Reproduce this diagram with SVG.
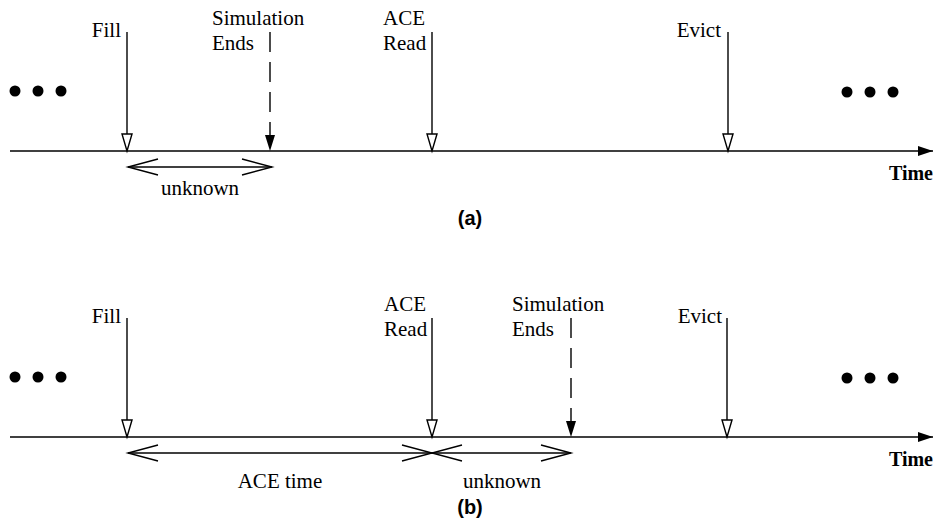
<svg xmlns="http://www.w3.org/2000/svg" width="940" height="522" viewBox="0 0 940 522">
  <style>
    .lbl { font-family: "Liberation Serif", "Times New Roman", serif; font-size: 21px; fill: #000; }
    .axis-lbl { font-family: "Liberation Serif", "Times New Roman", serif; font-size: 20px; font-weight: bold; fill: #000; }
    .cap { font-family: "Liberation Sans", Arial, sans-serif; font-size: 20px; font-weight: bold; fill: #000; }
    .ev { stroke: #000; stroke-width: 1.4; fill: none; marker-end: url(#openTri); }
    .ev-dash { stroke: #000; stroke-width: 1.4; fill: none; stroke-dasharray: 20 10; marker-end: url(#solidTri); }
    .span { stroke: #000; stroke-width: 1.4; fill: none; marker-start: url(#vHead); marker-end: url(#vHead); }
    .axis { stroke: #000; stroke-width: 1.6; fill: none; marker-end: url(#axisHead); }
  </style>
  <defs>
    <marker id="openTri" markerUnits="userSpaceOnUse" orient="auto" refX="0" refY="0" markerWidth="20" markerHeight="12" overflow="visible">
      <path d="M-17,-5 L0,0 L-17,5 Z" fill="#fff" stroke="#000" stroke-width="1.4"/>
    </marker>
    <marker id="solidTri" markerUnits="userSpaceOnUse" orient="auto" refX="0" refY="0" markerWidth="20" markerHeight="12" overflow="visible">
      <path d="M-16,-5 L0,0 L-16,5 Z" fill="#000"/>
    </marker>
    <marker id="axisHead" markerUnits="userSpaceOnUse" orient="auto" refX="0" refY="0" markerWidth="20" markerHeight="12" overflow="visible">
      <path d="M-15,-5 L0,0 L-15,5 Z" fill="#000"/>
    </marker>
    <marker id="vHead" markerUnits="userSpaceOnUse" orient="auto-start-reverse" refX="0" refY="0" markerWidth="34" markerHeight="20" overflow="visible">
      <path d="M-30,-8 L0,0 L-30,8" fill="none" stroke="#000" stroke-width="1.4"/>
    </marker>
    <g id="dots">
      <circle cx="0" cy="0" r="5.5"/>
      <circle cx="23" cy="0" r="5.5"/>
      <circle cx="46" cy="0" r="5.5"/>
    </g>
  </defs>

  <!-- Panel (a): simulation ends before the ACE read -->
  <g id="panel-a">
    <g id="a-connectors">
      <line class="axis" x1="10" y1="151" x2="933" y2="151"/>
      <line class="ev" x1="127" y1="32" x2="127" y2="151"/>
      <line class="ev-dash" x1="270" y1="32" x2="270" y2="151"/>
      <line class="ev" x1="432" y1="32" x2="432" y2="151"/>
      <line class="ev" x1="728" y1="32" x2="728" y2="151"/>
      <line class="span" x1="128" y1="167" x2="272" y2="167"/>
    </g>
    <g id="a-dots-left"><use href="#dots" x="15" y="91"/></g>
    <g id="a-dots-right"><use href="#dots" x="847" y="92"/></g>
    <g id="a-fill"><text class="lbl" x="121" y="37" text-anchor="end">Fill</text></g>
    <g id="a-sim-ends">
      <text class="lbl" x="212" y="25">Simulation</text>
      <text class="lbl" x="212" y="50">Ends</text>
    </g>
    <g id="a-ace-read">
      <text class="lbl" x="383" y="25">ACE</text>
      <text class="lbl" x="383" y="50">Read</text>
    </g>
    <g id="a-evict"><text class="lbl" x="721" y="37" text-anchor="end">Evict</text></g>
    <g id="a-unknown"><text class="lbl" x="200" y="195" text-anchor="middle">unknown</text></g>
    <g id="a-time"><text class="axis-lbl" x="933" y="180" text-anchor="end">Time</text></g>
    <text class="cap" x="470" y="225" text-anchor="middle">(a)</text>
  </g>

  <!-- Panel (b): simulation ends after the ACE read -->
  <g id="panel-b">
    <g id="b-connectors">
      <line class="axis" x1="10" y1="437" x2="933" y2="437"/>
      <line class="ev" x1="127" y1="318" x2="127" y2="437"/>
      <line class="ev" x1="432" y1="318" x2="432" y2="437"/>
      <line class="ev-dash" x1="571" y1="318" x2="571" y2="437"/>
      <line class="ev" x1="727" y1="318" x2="727" y2="437"/>
      <line class="span" x1="128" y1="453" x2="432" y2="453"/>
      <line class="span" x1="432" y1="453" x2="571" y2="453"/>
    </g>
    <g id="b-dots-left"><use href="#dots" x="15" y="377"/></g>
    <g id="b-dots-right"><use href="#dots" x="847" y="378"/></g>
    <g id="b-fill"><text class="lbl" x="121" y="323" text-anchor="end">Fill</text></g>
    <g id="b-ace-read">
      <text class="lbl" x="384" y="311">ACE</text>
      <text class="lbl" x="384" y="336">Read</text>
    </g>
    <g id="b-sim-ends">
      <text class="lbl" x="512" y="311">Simulation</text>
      <text class="lbl" x="512" y="336">Ends</text>
    </g>
    <g id="b-evict"><text class="lbl" x="722" y="323" text-anchor="end">Evict</text></g>
    <g id="b-ace-time"><text class="lbl" x="280" y="488" text-anchor="middle">ACE time</text></g>
    <g id="b-unknown"><text class="lbl" x="502" y="488" text-anchor="middle">unknown</text></g>
    <g id="b-time"><text class="axis-lbl" x="933" y="466" text-anchor="end">Time</text></g>
    <text class="cap" x="470" y="514" text-anchor="middle">(b)</text>
  </g>
</svg>
